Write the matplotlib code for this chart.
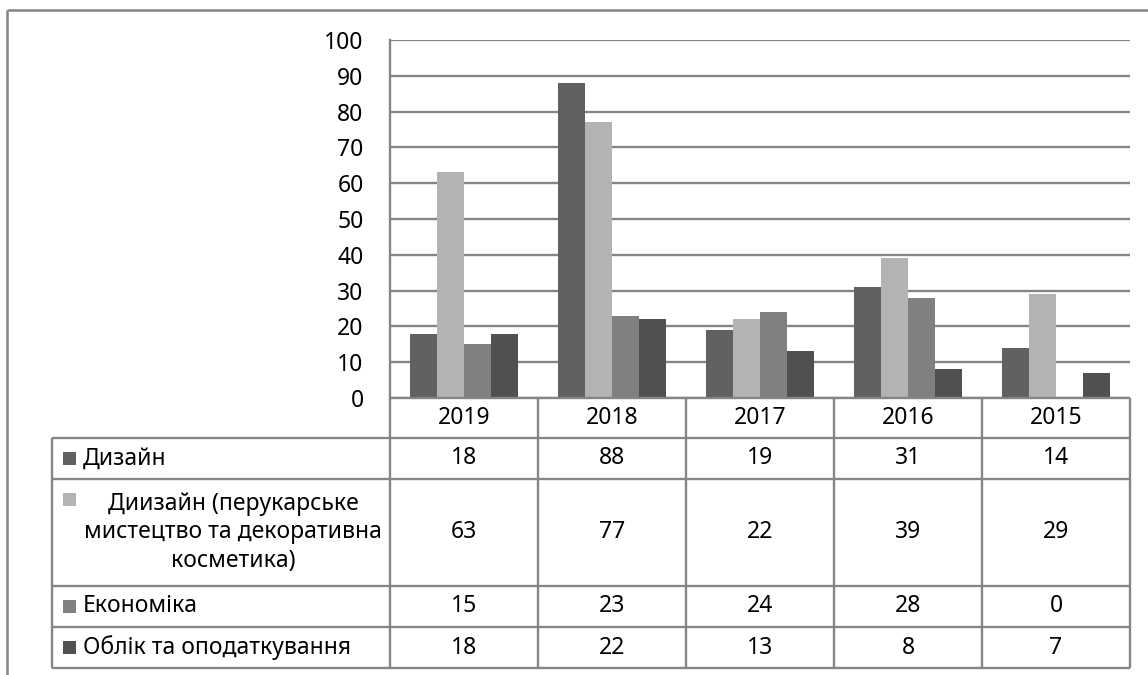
import matplotlib
matplotlib.use("Agg")
import matplotlib.pyplot as plt
from matplotlib.lines import Line2D
from matplotlib.patches import Rectangle

# ── Data ──
years = ["2019", "2018", "2017", "2016", "2015"]
series_names = [
    "Дизайн",
    "Диизайн (перукарське\nмистецтво та декоративна\nкосметика)",
    "Економіка",
    "Облік та оподаткування",
]
design = [18, 88, 19, 31, 14]
design_hair = [63, 77, 22, 39, 29]
economics = [15, 23, 24, 28, 0]
accounting = [18, 22, 13, 8, 7]
series_values = [design, design_hair, economics, accounting]
colors = ["#616161", "#b3b3b3", "#808080", "#505050"]

plt.rcParams['font.family'] = ['Noto Sans', 'DejaVu Sans']
FS = 16.5
GRID = "#858585"

W, H = 1148, 675
fig = plt.figure(figsize=(W / 100, H / 100), dpi=100)


def fx(x):
    return x / W


def fy(y):
    return 1 - y / H


def hline(x0, x1, y, lw=1.7):
    fig.add_artist(Line2D([fx(x0), fx(x1)], [fy(y), fy(y)], color=GRID, lw=lw,
                          transform=fig.transFigure, solid_capstyle='butt'))


def vline(x, y0, y1, lw=1.7):
    fig.add_artist(Line2D([fx(x), fx(x)], [fy(y0), fy(y1)], color=GRID, lw=lw,
                          transform=fig.transFigure, solid_capstyle='butt'))


# plot area geometry (pixels)
left, right, top, bottom = 390, 1130, 40, 398
ax = fig.add_axes([fx(left), fy(bottom), fx(right - left), (bottom - top) / H])

n_series = len(series_values)
bar_w = 27 / 148
for i, (vals, c) in enumerate(zip(series_values, colors)):
    offs = (i - (n_series - 1) / 2) * bar_w
    ax.bar([k + offs for k in range(len(years))], vals, width=bar_w, color=c,
           linewidth=0, zorder=3)

ax.set_xlim(-0.5, len(years) - 0.5)
ax.set_ylim(0, 100)
ax.set_yticks(range(0, 101, 10))
ax.set_xticks([])
ax.yaxis.grid(True, color=GRID, lw=1.7)
ax.set_axisbelow(True)
ax.tick_params(axis='y', length=0, pad=19, labelsize=FS)
for s in ["top", "right", "bottom"]:
    ax.spines[s].set_visible(False)
ax.spines["left"].set_color(GRID)
ax.spines["left"].set_linewidth(1.7)

# ── Data table ──
col_w = (right - left) / len(years)
label_left = 52
row_edges = [398, 438, 479, 586, 627, 668]

# header row (years)
hline(left, right, row_edges[0])
for k, y in enumerate(years):
    fig.text(fx(left + (k + 0.5) * col_w), fy((row_edges[0] + row_edges[1]) / 2), y,
             ha='center', va='center', fontsize=FS)
for r in row_edges[1:]:
    hline(label_left, right, r)
vline(label_left, row_edges[1], row_edges[-1])
for k in range(len(years) + 1):
    vline(left + k * col_w, row_edges[0], row_edges[-1])

for i, (name, vals, c) in enumerate(zip(series_names, series_values, colors)):
    y0, y1 = row_edges[i + 1], row_edges[i + 2]
    yc = (y0 + y1) / 2
    if "\n" in name:
        key_y = y0 + 20
        fig.text(fx(233), fy(yc), name, ha='center', va='center', fontsize=FS,
                 multialignment='center', linespacing=1.25)
    else:
        key_y = yc
        fig.text(fx(83), fy(yc), name, ha='left', va='center', fontsize=FS)
    fig.add_artist(Rectangle((fx(63), fy(key_y + 6.5)), fx(13), 13 / H,
                             color=c, transform=fig.transFigure, lw=0))
    for k, v in enumerate(vals):
        fig.text(fx(left + (k + 0.5) * col_w), fy(yc), str(v),
                 ha='center', va='center', fontsize=FS)

# outer chart frame (cropped)
hline(7, W, 10, lw=1.8)
vline(7, 10, H, lw=1.8)

fig.savefig("out.png", dpi=100)
